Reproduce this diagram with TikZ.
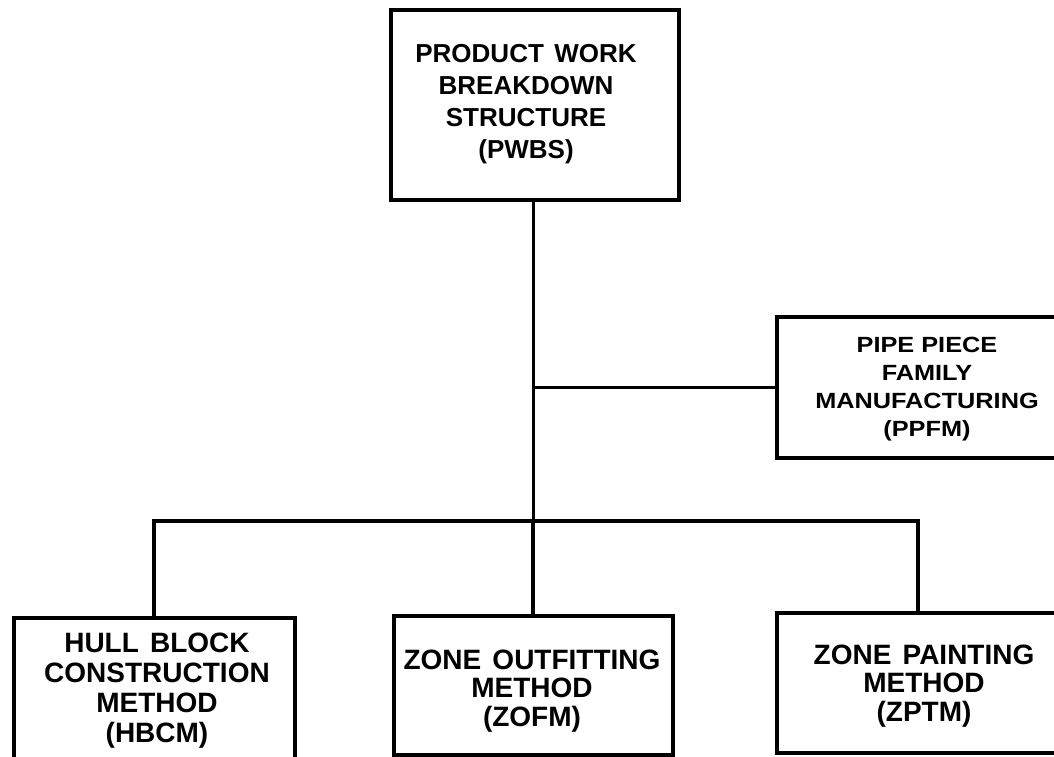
\documentclass[tikz,border=0pt]{standalone}
\usepackage{fontspec}
\setmainfont{Liberation Sans}
\newfontfamily\widefont[FakeStretch=1.15]{Liberation Sans}
\begin{document}
\begin{tikzpicture}[x=1pt,y=-1pt,
  boxstyle/.style={draw=black,line width=4pt,rectangle,inner sep=0pt,outer sep=0pt},
  conn/.style={draw=black,line width=3.5pt},
  lbl/.style={align=center,inner sep=0pt,font=\bfseries}]
\useasboundingbox (0,0) rectangle (1054,757);
\fill[white] (0,0) rectangle (1054,757);
\clip (0,0) rectangle (1054,757);
% boxes
\node[boxstyle,minimum width=288pt,minimum height=190pt] (pwbs) at (535,105) {};
\node[boxstyle,minimum width=400pt,minimum height=141pt] (ppfm) at (977,387.5) {};
\node[boxstyle,minimum width=281pt,minimum height=282pt] (hbcm) at (154,759) {};
\node[boxstyle,minimum width=279pt,minimum height=139pt] (zofm) at (533,685.5) {};
\node[boxstyle,minimum width=423pt,minimum height=140pt] (zptm) at (988.5,683) {};
% texts
\node[lbl,font=\bfseries\fontsize{26}{32}\selectfont] (pwbst) at (526,104)
  {PRODUCT\hspace{0.4em}WORK\\BREAKDOWN\\STRUCTURE\\(PWBS)};
\node[lbl,font=\widefont\bfseries\fontsize{22}{28}\selectfont] (ppfmt) at (927,389)
  {PIPE PIECE\\FAMILY\\MANUFACTURING\\(PPFM)};
\node[lbl,font=\bfseries\fontsize{28}{30}\selectfont] (hbcmt) at (157,691)
  {HULL\hspace{0.4em}BLOCK\\CONSTRUCTION\\METHOD\\(HBCM)};
\node[lbl,font=\bfseries\fontsize{28}{28.5}\selectfont] (zofmt) at (532,691)
  {ZONE\hspace{0.4em}OUTFITTING\\METHOD\\(ZOFM)};
\node[lbl,font=\bfseries\fontsize{28}{28.5}\selectfont] (zptmt) at (924,686)
  {ZONE\hspace{0.4em}PAINTING\\METHOD\\(ZPTM)};
% connectors
\coordinate (bus) at (533,521);
\coordinate (zptmdrop) at ([xshift=141pt]zptm.north west);
\draw[conn,line width=3pt] (pwbs.south -| bus) -- (bus);
\draw[conn] (bus) -- (zofm.north -| bus);
\draw[conn,line width=3pt] (pwbs.south -| bus) |- (ppfm.west);
\draw[conn,line width=4pt] (hbcm.north) |- (bus) -| (zptmdrop);
\end{tikzpicture}
\end{document}
